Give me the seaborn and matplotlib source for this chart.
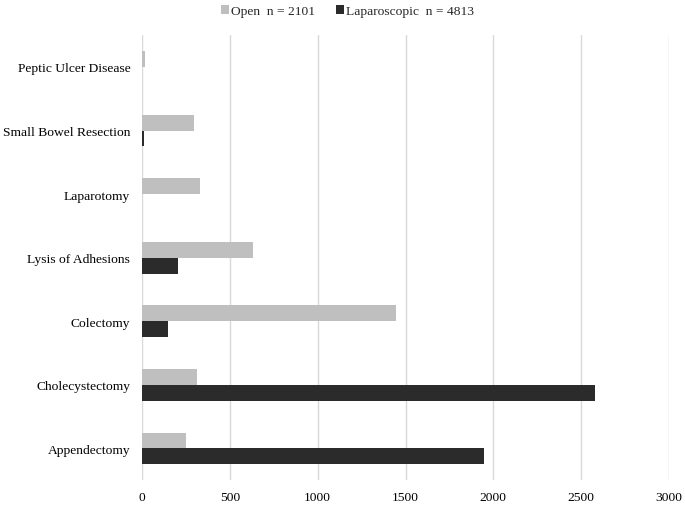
import pandas as pd
import matplotlib.pyplot as plt
import seaborn as sns

# values
procedures = ['Peptic Ulcer Disease', 'Small Bowel Resection', 'Laparotomy',
              'Lysis of Adhesions', 'Colectomy', 'Cholecystectomy', 'Appendectomy']
open_cases = [15, 295, 327, 629, 1444, 311, 250]
lap_cases = [0, 10, 0, 206, 147, 2581, 1949]
groups = ['Open  n = 2101', 'Laparoscopic  n = 4813']

df = pd.DataFrame({
    'procedure': procedures * 2,
    'cases': open_cases + lap_cases,
    'group': [groups[0]] * len(procedures) + [groups[1]] * len(procedures),
})

sns.set_style('white')
plt.rcParams['font.family'] = ['Liberation Serif', 'DejaVu Serif']

fig = plt.figure(figsize=(6.85, 5.06), dpi=100)
ax = fig.add_axes([0.2075, 0.049, 0.769, 0.8795])

sns.barplot(data=df, y='procedure', x='cases', hue='group', order=procedures,
            hue_order=groups, palette=['#BFBFBF', '#2B2B2B'], width=0.5,
            linewidth=0, orient='h', ax=ax)

ax.set_xlim(0, 3000)
ax.set_xticks(range(0, 3001, 500))
ax.xaxis.grid(True, color='#D9D9D9', linewidth=1)
ax.set_axisbelow(True)
for s in ax.spines.values():
    s.set_visible(False)
ax.tick_params(axis='both', length=0, labelsize=9.7, colors='black')
ax.tick_params(axis='x', pad=8)
ax.tick_params(axis='y', pad=8.5)
ax.set_xlabel('')
ax.set_ylabel('')

ax.legend(loc='upper center', bbox_to_anchor=(0.39, 1.095), ncol=2, frameon=False,
          fontsize=9.7, handlelength=0.6, handleheight=0.6, handletextpad=0.2,
          columnspacing=1.5)

fig.savefig('out.png', dpi=100)
